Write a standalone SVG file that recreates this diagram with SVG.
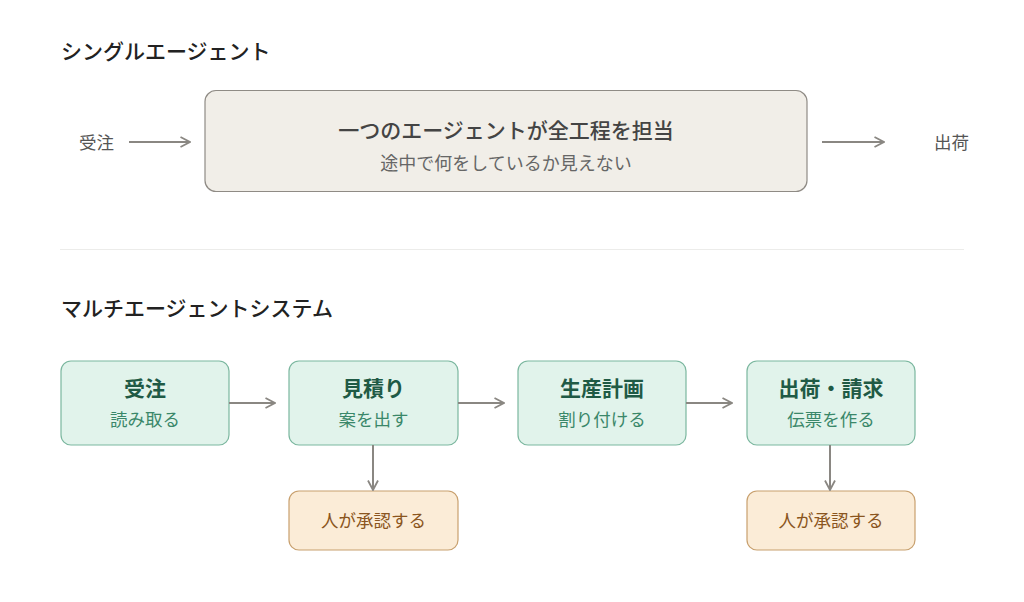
<svg xmlns="http://www.w3.org/2000/svg" width="1024" height="602" viewBox="0 0 1024 602">
<style>
text{font-family:"Noto Sans CJK JP","Noto Sans",sans-serif;}
.h{font-size:21px;font-weight:500;fill:#222;}
.lbl{font-size:17.5px;fill:#555;}
.big{font-size:21px;font-weight:500;fill:#444;text-anchor:middle;}
.sub{font-size:18px;fill:#666;text-anchor:middle;}
.agent rect{fill:#e1f3eb;stroke:#7bb79f;stroke-width:1.2;}
.at{font-size:21px;font-weight:700;fill:#1f5a45;text-anchor:middle;}
.as{font-size:17.5px;fill:#3a8769;text-anchor:middle;}
.human rect{fill:#fbecd7;stroke:#c8a06e;stroke-width:1.2;}
.ht{font-size:17.5px;fill:#8a5520;text-anchor:middle;}
.c{stroke:#8a8782;stroke-width:2;fill:none;marker-end:url(#ah);}
</style>
<defs>
<marker id="ah" viewBox="0 0 12 12" refX="11" refY="6" markerWidth="12" markerHeight="12" markerUnits="userSpaceOnUse" orient="auto">
<path d="M1.5,1 L11,6 L1.5,11" fill="none" stroke="#8a8782" stroke-width="1.8"/>
</marker>
</defs>
<rect width="1024" height="602" fill="#fff"/>
<text class="h" x="61" y="59">シングルエージェント</text>
<g id="in"><text class="lbl" x="79" y="149">受注</text></g>
<g id="single">
<rect x="205" y="90.5" width="602" height="101" rx="11" fill="#f1eee8" stroke="#8f8b85" stroke-width="1.2"/>
<text class="big" x="506" y="138">一つのエージェントが全工程を担当</text>
<text class="sub" x="506" y="170">途中で何をしているか見えない</text>
</g>
<g id="out"><text class="lbl" x="934" y="149">出荷</text></g>
<line x1="60" y1="249.5" x2="964" y2="249.5" stroke="#ececea" stroke-width="1"/>
<text class="h" x="61" y="316">マルチエージェントシステム</text>
<g id="n1" class="agent"><rect x="61" y="361" width="168" height="84" rx="10"/><text class="at" x="145" y="396">受注</text><text class="as" x="145" y="426">読み取る</text></g>
<g id="n2" class="agent"><rect x="289" y="361" width="169" height="84" rx="10"/><text class="at" x="373.5" y="396">見積り</text><text class="as" x="373.5" y="426">案を出す</text></g>
<g id="n3" class="agent"><rect x="518" y="361" width="168" height="84" rx="10"/><text class="at" x="602" y="396">生産計画</text><text class="as" x="602" y="426">割り付ける</text></g>
<g id="n4" class="agent"><rect x="747" y="361" width="168" height="84" rx="10"/><text class="at" x="831" y="396">出荷・請求</text><text class="as" x="831" y="426">伝票を作る</text></g>
<g id="h1" class="human"><rect x="289" y="491" width="169" height="59" rx="10"/><text class="ht" x="373.5" y="527">人が承認する</text></g>
<g id="h2" class="human"><rect x="747" y="491" width="168" height="59" rx="10"/><text class="ht" x="831" y="527">人が承認する</text></g>
<g id="connectors">
<line class="c" x1="129" y1="142" x2="190" y2="142"/>
<line class="c" x1="822" y1="142" x2="884" y2="142"/>
<line class="c" x1="229" y1="403" x2="275" y2="403"/>
<line class="c" x1="458" y1="403" x2="504" y2="403"/>
<line class="c" x1="686" y1="403" x2="732" y2="403"/>
<line class="c" x1="373" y1="445" x2="373" y2="490"/>
<line class="c" x1="830" y1="445" x2="830" y2="490"/>
</g>
</svg>
